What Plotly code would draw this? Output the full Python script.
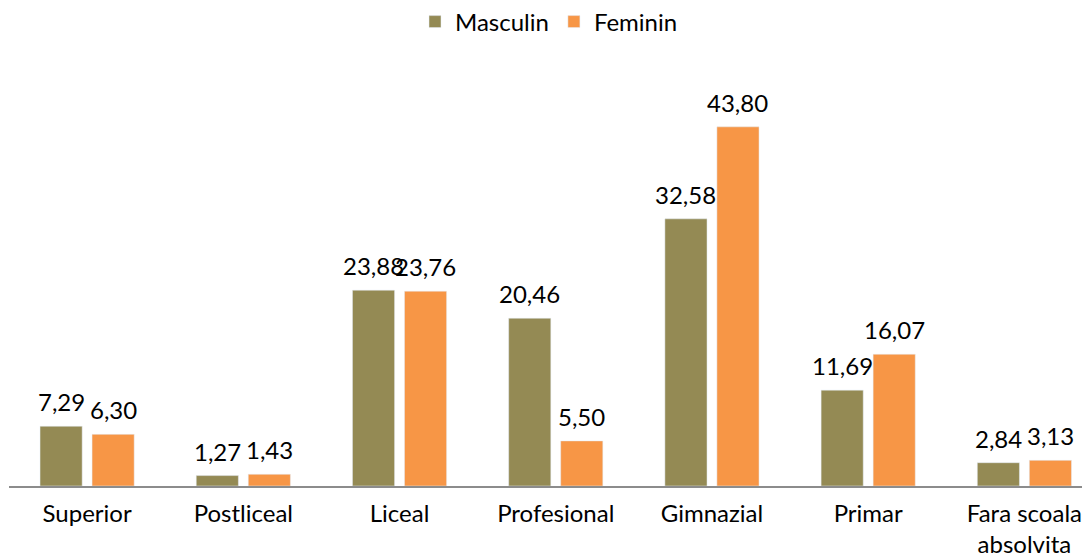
import plotly.graph_objects as go

categories = ["Superior", "Postliceal", "Liceal", "Profesional", "Gimnazial", "Primar", "Fara scoala<br>absolvita"]
masculin = [7.29, 1.27, 23.88, 20.46, 32.58, 11.69, 2.84]
feminin = [6.30, 1.43, 23.76, 5.50, 43.80, 16.07, 3.13]

def fmt(v):
    return f"{v:.2f}".replace(".", ",")

FONT = "Lato, Noto Sans, sans-serif"
FS = 24

W, H = 1082, 552

fig = go.Figure()
fig.add_trace(go.Bar(name="Masculin", x=categories, y=masculin, marker_color="#948A54"))
fig.add_trace(go.Bar(name="Feminin", x=categories, y=feminin, marker_color="#F79646"))

# value labels above bars
for vals, xs in ((masculin, -26), (feminin, 26)):
    for c, v in zip(categories, vals):
        fig.add_annotation(x=c, y=v, xref="x", yref="y", text=fmt(v), showarrow=False,
                           xanchor="center", yanchor="bottom", xshift=xs, yshift=8,
                           font=dict(size=FS, family=FONT, color="#000000"))

fig.update_layout(
    width=W, height=H,
    margin=dict(l=1, r=0, t=68, b=74, autoexpand=False),
    paper_bgcolor="white", plot_bgcolor="white",
    barmode="group", bargap=0.334, bargroupgap=0.19,
    font=dict(family=FONT, size=FS, color="#000000"),
    legend=dict(orientation="h", x=0.5, xanchor="center", xref="container",
                y=1 - 14 / H, yanchor="middle", yref="container",
                font=dict(size=FS, family=FONT), itemwidth=30, traceorder="normal"),
    showlegend=True,
)
fig.update_xaxes(showline=True, linecolor="#8c8c8c", linewidth=1.5, ticks="",
                 ticklabelstandoff=5, range=[-0.5, 6.42],
                 tickfont=dict(size=FS, family=FONT), showgrid=False)
fig.update_yaxes(range=[0, 50], visible=False, showgrid=False)

fig.write_html("out.html")
